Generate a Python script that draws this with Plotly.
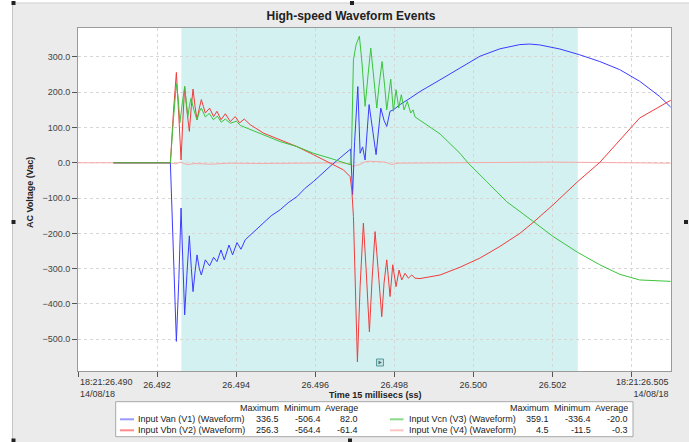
import plotly.graph_objects as go

# ---------------- data (time in ms after 18:21:26.490) ----------------
v1_t = [0.897, 2.337, 2.412, 2.488, 2.551, 2.607, 2.652, 2.698, 2.753, 2.816, 2.867, 2.910,
        2.960, 3.011, 3.069, 3.120, 3.221, 3.329, 3.430, 3.516, 3.617, 3.700, 3.819, 3.910,
        4.021, 4.122, 4.231, 4.458, 4.693, 4.888, 5.115, 5.317, 5.537, 5.746, 5.956, 6.176,
        6.378, 6.631, 6.896, 6.946, 6.997, 7.078, 7.136, 7.199, 7.262, 7.363, 7.451, 7.540,
        7.659, 7.742, 7.810, 7.893, 7.977, 8.146, 8.399, 8.651, 9.156, 9.662, 10.167, 10.672,
        11.177, 11.430, 11.682, 12.188, 12.693, 13.198, 13.703, 14.208, 14.713, 14.991]
v1_v = [0, 0, -250, -506, -330, -128, -280, -431, -320, -207, -300, -365,
        -310, -261, -300, -318, -275, -292, -268, -280, -247, -275, -233, -261,
        -226, -245, -218, -195, -171, -150, -133, -113, -96, -72, -53, -30,
        -10, 14, 39, -90, 60, 216, 27, 45, 8, 165, 90, 23,
        155, 120, 103, 146, 150, 165, 183, 202, 235, 269, 302, 323,
        335, 336.5, 334, 322.5, 306, 287, 264, 231, 188, 158]

v2_t = [0.897, 2.337, 2.412, 2.488, 2.551, 2.607, 2.652, 2.698, 2.753, 2.816, 2.867, 2.910,
        2.960, 3.011, 3.069, 3.120, 3.170, 3.221, 3.329, 3.430, 3.516, 3.617, 3.726, 3.852,
        3.978, 4.087, 4.206, 4.357, 4.693, 5.115, 5.537, 5.956, 6.378, 6.714, 6.883, 6.926,
        6.967, 7.022, 7.068, 7.136, 7.219, 7.287, 7.371, 7.439, 7.515, 7.590, 7.684, 7.742,
        7.810, 7.893, 7.962, 8.045, 8.121, 8.189, 8.272, 8.356, 8.442, 8.525, 8.651, 9.156,
        9.662, 10.167, 10.672, 11.177, 11.513, 12.018, 12.642, 13.198, 13.703, 14.208, 14.991]
v2_v = [0, 0, 140, 256, 130, 8, 120, 216, 150, 89, 160, 209,
        160, 122, 155, 179, 160, 141, 155, 131, 146, 122, 139, 117,
        131, 113, 124, 108, 84, 65, 46, 23, -1, -20, -39, -77,
        -152, -400, -564, -350, -171, -300, -479, -330, -195, -300, -436, -340,
        -275, -379, -289, -351, -304, -332, -313, -327, -318, -327, -328, -318,
        -296, -270, -237, -200, -169, -119, -53, 1, 65, 127, 177]

v3_t = [0.897, 2.337, 2.412, 2.488, 2.538, 2.576, 2.640, 2.698, 2.741, 2.779, 2.816, 2.859,
        2.930, 3.011, 3.069, 3.120, 3.221, 3.322, 3.423, 3.524, 3.625, 3.726, 3.852, 4.004,
        4.105, 4.274, 4.693, 5.115, 5.537, 5.956, 6.378, 6.714, 6.901, 6.921, 6.967, 7.035,
        7.118, 7.186, 7.262, 7.338, 7.406, 7.464, 7.558, 7.616, 7.691, 7.755, 7.810, 7.868,
        7.911, 7.977, 8.045, 8.113, 8.179, 8.247, 8.330, 8.416, 8.474, 8.525, 8.651, 8.904,
        9.156, 9.662, 9.871, 10.336, 10.841, 11.513, 12.018, 12.642, 13.198, 13.703, 14.208, 14.991]
v3_v = [0, 0, 120, 224, 180, 113, 170, 216, 170, 131, 160, 183,
        150, 122, 145, 155, 130, 140, 122, 132, 115, 124, 112, 118,
        106, 98, 79, 60, 46, 27, 13, 1, -6, 50, 292, 335,
        359, 280, 160, 250, 325, 260, 155, 220, 287, 220, 150, 200,
        237, 146, 207, 155, 193, 150, 174, 141, 150, 130, 120, 100,
        82, 27, -1, -53, -110, -166, -209, -254, -289, -316, -332, -336]

v4_t = [0.0, 0.897, 2.337, 2.463, 2.589, 2.758, 2.968, 3.347, 3.852, 4.610, 5.620, 6.631,
        6.908, 6.959, 7.035, 7.136, 7.262, 7.388, 7.767, 7.944, 8.096, 9.409, 10.672, 11.935,
        13.198, 14.991]
v4_v = [0, 0, 0, -3, 2, -5, -2, -4, -1, -2, -1, 0,
        -3, -11.5, -7, -5, 3, 4.5, 2, -5, -1, -1, 1, 2,
        0, -1]

series_names = ["Input Van (V1) (Waveform)", "Input Vbn (V2) (Waveform)",
                "Input Vcn (V3) (Waveform)", "Input Vne (V4) (Waveform)"]
stat_max = ["336.5", "256.3", "359.1", "4.5"]
stat_min = ["-506.4", "-564.4", "-336.4", "-11.5"]
stat_avg = ["82.0", "-61.4", "-20.0", "-0.3"]

x_tickvals = [0, 2, 4, 6, 8, 10, 12, 14]
x_ticktext = ["", "26.492", "26.494", "26.496", "26.498", "26.500", "26.502", ""]
y_tickvals = [-500, -400, -300, -200, -100, 0, 100, 200, 300]
start_label = "18:21:26.490<br>14/08/18"
end_label = "18:21:26.505<br>14/08/18"
window = [2.614, 12.642]

# ---------------- styling ----------------
FONT = 'Arial, "Liberation Sans", sans-serif'
C_BLUE, C_RED, C_GREEN, C_PINK = "#3c3cff", "#f03c3c", "#3cc43c", "#f7a8a8"
L_BLUE, L_RED, L_GREEN, L_PINK = "#9a9aff", "#ff8a8a", "#8ad88a", "#ffc4c4"

L, R, T, B = 78, 671, 28, 371
W, H = R - L, B - T
def px(x):
    return (x - L) / W
def py(y):
    return (B - y) / H

fig = go.Figure()
fig.add_trace(go.Scatter(x=v4_t, y=v4_v, mode="lines", line=dict(color=C_PINK, width=1)))
fig.add_trace(go.Scatter(x=v1_t, y=v1_v, mode="lines", line=dict(color=C_BLUE, width=1)))
fig.add_trace(go.Scatter(x=v2_t, y=v2_v, mode="lines", line=dict(color=C_RED, width=1)))
fig.add_trace(go.Scatter(x=v3_t, y=v3_v, mode="lines", line=dict(color=C_GREEN, width=1)))

shapes = []
# outer white strips and panel border
shapes.append(dict(type="rect", xref="paper", yref="paper", x0=px(-5), x1=px(12), y0=py(450), y1=py(-5),
                   fillcolor="white", line=dict(width=0), layer="below"))
shapes.append(dict(type="rect", xref="paper", yref="paper", x0=px(-5), x1=px(700), y0=py(2.7), y1=py(-5),
                   fillcolor="white", line=dict(width=0), layer="below"))
shapes.append(dict(type="line", xref="paper", yref="paper", x0=px(12.5), x1=px(12.5), y0=py(3), y1=py(450),
                   line=dict(color="#c4c4c4", width=1), layer="below"))
shapes.append(dict(type="line", xref="paper", yref="paper", x0=px(12), x1=px(700), y0=py(3), y1=py(3),
                   line=dict(color="#d2d2d2", width=1), layer="below"))
# selection handles
for hx, hy in [(13.5, 3), (352, 3), (13.5, 222), (686, 222), (350, 440.5), (13.5, 440.5)]:
    shapes.append(dict(type="rect", xref="paper", yref="paper", x0=px(hx - 2), x1=px(hx + 2),
                       y0=py(hy + 2), y1=py(hy - 2), fillcolor="#222", line=dict(width=0)))
# event window
shapes.append(dict(type="rect", xref="x", yref="paper", x0=window[0], x1=window[1], y0=0, y1=1,
                   fillcolor="#d3f1f1", line=dict(width=0), layer="below"))
# small icon
shapes.append(dict(type="rect", xref="paper", yref="paper", x0=px(376.5), x1=px(383.5), y0=py(366), y1=py(359),
                   fillcolor="#bfe2e2", line=dict(color="#5a9a9a", width=1)))
shapes.append(dict(type="path", xref="paper", yref="paper",
                   path=f"M {px(378.5)},{py(360.8)} L {px(378.5)},{py(364.2)} L {px(381.8)},{py(362.5)} Z",
                   fillcolor="#4a6a6a", line=dict(width=0)))
# legend box
shapes.append(dict(type="rect", xref="paper", yref="paper", x0=px(115.7), x1=px(633), y0=py(436.7), y1=py(401.7),
                   fillcolor="white", line=dict(color="#a8a8a8", width=1)))

row_y = [419.3, 430.3, 419.3, 430.3]
samp_x = [(120, 134), (120, 134), (390, 403.5), (390, 403.5)]
name_x = [136, 136, 406.6, 406.6]
col_x = [(281.2, 322.8, 360.0), (281.2, 322.8, 360.0), (550.5, 592.5, 629.5), (550.5, 592.5, 629.5)]
samp_c = [L_BLUE, L_RED, L_GREEN, L_PINK]
for i in range(4):
    shapes.append(dict(type="line", xref="paper", yref="paper", x0=px(samp_x[i][0]), x1=px(samp_x[i][1]),
                       y0=py(row_y[i]), y1=py(row_y[i]), line=dict(color=samp_c[i], width=2)))

ann = []
def txt(text, x, y, xanchor="left", size=9, bold=False, color="#222", **kw):
    ann.append(dict(text=f"<b>{text}</b>" if bold else text, xref="paper", yref="paper", x=px(x), y=py(y),
                    xanchor=xanchor, yanchor="middle", showarrow=False,
                    font=dict(family=FONT, size=size, color=color), **kw))

for i in range(4):
    txt(series_names[i], name_x[i], row_y[i])
    txt(stat_max[i], col_x[i][0], row_y[i], "right")
    txt(stat_min[i], col_x[i][1], row_y[i], "right")
    txt(stat_avg[i], col_x[i][2], row_y[i], "right")
for g in (0, 2):
    txt("Maximum", col_x[g][0], 408, "right")
    txt("Minimum", col_x[g][1], 408, "right")
    txt("Average", col_x[g][2], 408, "right")

# axis end labels and titles
ann.append(dict(text=start_label, xref="paper", yref="paper", x=0, y=py(375), xanchor="left", yanchor="top",
                align="left", showarrow=False, font=dict(family=FONT, size=9, color="#333")))
ann.append(dict(text=end_label, xref="paper", yref="paper", x=1, y=py(375), xanchor="right", yanchor="top",
                align="right", showarrow=False, font=dict(family=FONT, size=9, color="#333")))
txt("Time 15 millisecs (ss)", 374.5, 394.5, "center", bold=True)
ann.append(dict(text="<b>AC Voltage (Vac)</b>", xref="paper", yref="paper", x=px(30), y=py(193),
                xanchor="center", yanchor="middle", textangle=-90, showarrow=False,
                font=dict(family=FONT, size=9, color="#222")))

fig.update_layout(
    width=689, height=442,
    margin=dict(l=L, r=689 - R, t=T, b=442 - B, pad=0),
    paper_bgcolor="#ebebeb", plot_bgcolor="white",
    showlegend=False,
    title=dict(text="<b>High-speed Waveform Events</b>", x=351 / 689, xref="container", xanchor="center",
               y=1 - 15.5 / 442, yref="container", yanchor="middle",
               font=dict(family=FONT, size=12, color="#222")),
    shapes=shapes, annotations=ann,
    font=dict(family=FONT, size=9, color="#333"),
)
fig.update_xaxes(range=[0, 15], tickvals=x_tickvals, ticktext=x_ticktext, ticks="outside", ticklen=5,
                 tickcolor="#555", showgrid=True, gridcolor="#d6d6d6", griddash="dot", gridwidth=1,
                 showline=True, linecolor="#9a9a9a", mirror=True, zeroline=False,
                 tickfont=dict(family=FONT, size=9, color="#333"))
fig.update_yaxes(range=[-590, 382], tickvals=y_tickvals, tickformat=".1f", ticks="outside", ticklen=5,
                 tickcolor="#555", showgrid=True, gridcolor="#d6d6d6", griddash="dot", gridwidth=1,
                 showline=True, linecolor="#9a9a9a", mirror=True, zeroline=False,
                 tickfont=dict(family=FONT, size=9, color="#444"))

fig.write_html("out.html")
